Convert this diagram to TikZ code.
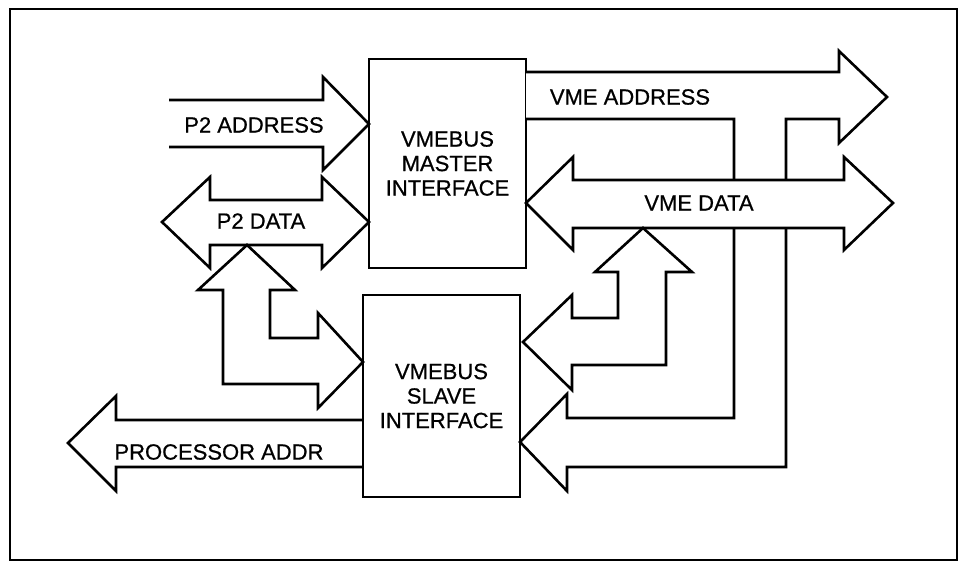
\documentclass[tikz,border=0pt]{standalone}
\usepackage{fontspec}
\setmainfont{Liberation Sans}
\newfontfamily\diagfont[FakeBold=0.7]{Liberation Sans}
\begin{document}
\begin{tikzpicture}[x=1pt,y=-1pt,
  line join=miter,
  outline/.style={draw=black,line width=2.6pt},
  bus/.style={outline,fill=white},
  unitbox/.style={outline,fill=white,minimum width=157pt,align=center,
    inner sep=0pt,font=\diagfont\fontsize{22}{24.5}\selectfont},
  buslabel/.style={font=\diagfont\fontsize{22}{24.5}\selectfont,inner sep=0pt}]
\useasboundingbox (0,0) rectangle (966,562);

% outer frame
\draw[line width=2.2pt] (10,9) rectangle (957,560);

% functional blocks
\node[unitbox,minimum height=209pt] (master) at (447.5,163.5)
  {VMEBUS\\MASTER\\INTERFACE};
\node[unitbox,minimum height=202pt] (slave) at (441.5,396)
  {\rule{0pt}{10pt}VMEBUS\\SLAVE\\INTERFACE};

% P2 address bus into the master
\draw[outline] (169,100) -- (323,100) -- (323,77) -- (369,124)
  -- (323,170) -- (323,147) -- (169,147);

% P2 data bus, bidirectional with the master
\draw[bus] (162,222) -- (210,177) -- (210,200) -- (322,200) -- (322,177)
  -- (369,222) -- (322,268) -- (322,245) -- (210,245) -- (210,268) -- cycle;

% P2 data branch down to the slave
\draw[bus] (247,245) -- (295,290) -- (270,290) -- (270,338) -- (318,338)
  -- (318,313) -- (363,362) -- (318,408) -- (318,384) -- (223,384)
  -- (223,290) -- (198,290) -- cycle;

% VME address bus, with its branch down to the slave
\draw[bus] (526,72) -- (839,72) -- (839,51) -- (887,97) -- (839,143)
  -- (839,119) -- (786,119) -- (786,467) -- (567,467) -- (567,491)
  -- (520,442) -- (567,394) -- (567,418) -- (734,418) -- (734,119)
  -- (526,119);

% VME data bus, bidirectional with the master
\draw[bus] (526,203) -- (573,157) -- (573,180) -- (844,180) -- (844,157)
  -- (893,203) -- (844,250) -- (844,228) -- (573,228) -- (573,250) -- cycle;

% VME data branch down to the slave
\draw[bus] (643,228) -- (692,272) -- (666,272) -- (666,365) -- (572,365)
  -- (572,390) -- (523,342) -- (572,295) -- (572,318) -- (618,318)
  -- (618,272) -- (595,272) -- cycle;

% processor address out of the slave
\draw[outline] (363,420) -- (116,420) -- (116,396) -- (68,443)
  -- (116,491) -- (116,467) -- (363,467);

% bus labels
\node[buslabel] (lp2a) at (254,125) {P2 ADDRESS};
\node[buslabel] (lp2d) at (261,221) {P2 DATA};
\node[buslabel] (lvmea) at (630,97) {VME ADDRESS};
\node[buslabel] (lvmed) at (699,203) {VME DATA};
\node[buslabel] (lproc) at (219,452) {PROCESSOR ADDR};
\end{tikzpicture}
\end{document}
